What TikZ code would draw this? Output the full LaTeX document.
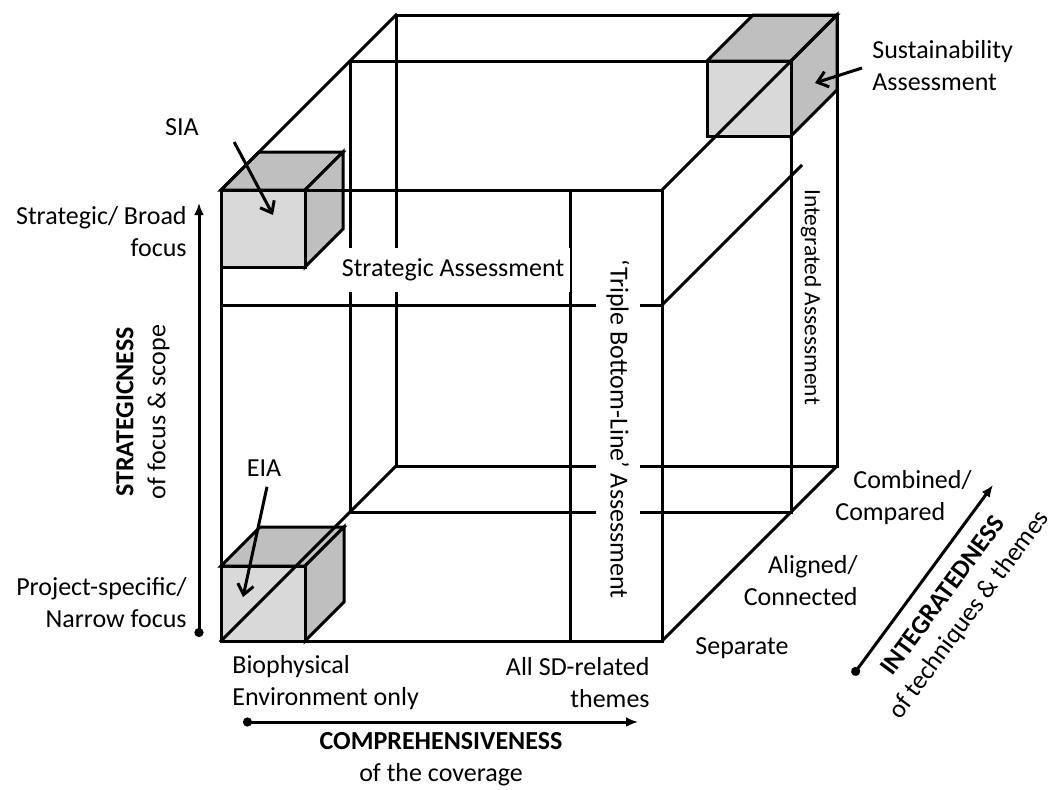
\documentclass[tikz,border=0pt]{standalone}
\usepackage{fontspec}
\setmainfont{Carlito}
\usepackage{tikz}
\usetikzlibrary{positioning, arrows.meta}

\definecolor{facelight}{HTML}{D9D9D9}
\definecolor{facedark}{HTML}{BFBFBF}

\begin{document}
\begin{tikzpicture}[
    x=0.5pt, y=-0.5pt,
    edge/.style={line width=1.5pt, line cap=rect},
    front/.style={draw, line width=1.5pt, fill=facelight},
    side/.style={draw, line width=1.5pt, fill=facedark},
    lbl/.style={inner sep=0pt, font=\fontsize{13pt}{16pt}\selectfont},
    cutlbl/.style={lbl, fill=white, inner xsep=3pt, minimum height=22pt},
    pointer/.style={line width=1.5pt, -{Straight Barb[length=5pt, width=8pt]}},
    axis/.style={line width=1.5pt, {Circle[length=4.5pt]}-{Latex[length=6pt, width=5pt]}}
]
    \useasboundingbox (0,0) rectangle (1055,789);

    % Corners of the big cube: front, middle and back plane
    \coordinate (F1) at (221,190); \coordinate (F2) at (662,190);
    \coordinate (F3) at (662,641); \coordinate (F4) at (221,641);
    \coordinate (M1) at (350,61);  \coordinate (M2) at (791,61);
    \coordinate (M3) at (791,512); \coordinate (M4) at (350,512);
    \coordinate (B1) at (396,15);  \coordinate (B2) at (837,15);
    \coordinate (B3) at (837,466); \coordinate (B4) at (396,466);

    % Small cubes (the frame runs over them)
    % SIA
    \draw[side] (221,190) -- (259,152) -- (343,152) -- (305,190) -- cycle;
    \draw[side] (305,190) -- (343,152) -- (343,229) -- (305,267) -- cycle;
    \draw[front] (221,190) rectangle (305,267);
    % EIA
    \draw[side] (221,566) -- (260,527) -- (344,527) -- (305,566) -- cycle;
    \draw[side] (305,566) -- (344,527) -- (344,602) -- (305,641) -- cycle;
    \draw[front] (221,566) rectangle (305,641);
    % Sustainability Assessment
    \draw[side] (707,61) -- (753,15) -- (837,15) -- (791,61) -- cycle;
    \draw[side] (791,61) -- (837,15) -- (837,90) -- (791,136) -- cycle;
    \draw[front] (707,61) rectangle (791,136);

    % Front face
    \draw[edge] (F1) rectangle (F3);
    \draw[edge] (570,190) -- (570,641);
    \draw[edge] (221,305) coordinate (S1) -- (662,305) coordinate (S2);
    % Middle and back planes
    \draw[edge] (M1) rectangle (M3);
    \draw[edge] (B1) rectangle (B3);
    % Depth edges
    \draw[edge] (F1) -- (B1);
    \draw[edge] (F2) -- (B2);
    \draw[edge] (F3) -- (B3);
    \draw[edge] (F4) -- (B4);
    \draw[edge] (S2) -- (801,166);

    % Labels that cut the frame lines
    \node[cutlbl] (sa) at (453,270) {Strategic Assessment};
    \node[cutlbl, rotate=-90, inner xsep=6pt] (tbl) at (618,429) {`Triple Bottom-Line' Assessment};
    \node[lbl, rotate=-90, font=\fontsize{11.7pt}{14pt}\selectfont] (ia) at (811,297) {Integrated Assessment};

    % Assessment types
    \node[lbl] (sia) at (182,127) {SIA};
    \node[lbl] (eia) at (264,468) {EIA};
    \node[lbl, align=left, anchor=west] (sust) at (872,66) {Sustainability\\Assessment};
    \coordinate (siatip) at (273,215);
    \coordinate (eiatip) at (243,597);
    \coordinate (susttip) at (815,83);
    \draw[pointer] ([shift={(35,15)}]sia.east) -- (siatip);
    \draw[pointer] ([shift={(3,10)}]eia.south) -- (eiatip);
    \draw[pointer] ([shift={(-10,2)}]sust.west) -- (susttip);

    % Strategicness axis
    \node[lbl, align=right, anchor=east] (broad) at (187,232) {Strategic/ Broad\\focus};
    \node[lbl, align=right, anchor=east] (narrow) at (187,603) {Project-specific/\\Narrow focus};
    \coordinate (s0) at (199,637);
    \coordinate (s1) at (199,203);
    \draw[axis] (s0) -- (s1);
    \node[lbl, rotate=90, align=center] (strat) at (143,412) {\textbf{STRATEGICNESS}\\of focus \& scope};

    % Comprehensiveness axis
    \node[lbl, align=left, anchor=west] (bio) at (232,683) {Biophysical\\Environment only};
    \node[lbl, align=right, anchor=east] (allsd) at (650,683) {All SD-related\\themes};
    \coordinate (c0) at (243,722);
    \coordinate (c1) at (638,722);
    \draw[axis] (c0) -- (c1);
    \node[lbl, align=center] (comp) at (441,759) {\textbf{COMPREHENSIVENESS}\\of the coverage};

    % Integratedness axis
    \node[lbl] (sep) at (742,648) {Separate};
    \node[lbl, align=right, anchor=east] (align) at (858,581) {Aligned/\\Connected};
    \node[lbl, align=left, anchor=west] (comb) at (835,498) {\hspace*{9pt}Combined/\\Compared};
    \coordinate (i0) at (853,675);
    \coordinate (i1) at (993,485);
    \draw[axis] (i0) -- (i1);
    \node[lbl, rotate=53.5, align=center] (integ) at (957,606) {\textbf{INTEGRATEDNESS}\\of techniques \& themes};

\end{tikzpicture}
\end{document}
